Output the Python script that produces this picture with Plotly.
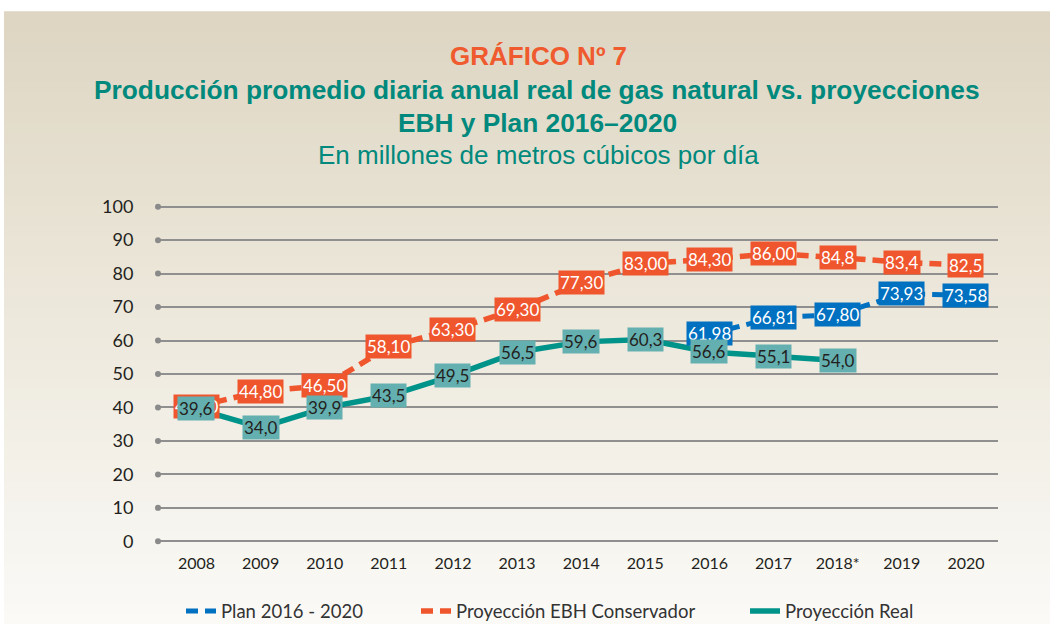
import plotly.graph_objects as go

# ---------------- data ----------------
years = ["2008", "2009", "2010", "2011", "2012", "2013", "2014",
         "2015", "2016", "2017", "2018*", "2019", "2020"]

real_vals = [39.6, 34.0, 39.9, 43.5, 49.5, 56.5, 59.6, 60.3, 56.6, 55.1, 54.0]
real_labels = ["39,6", "34,0", "39,9", "43,5", "49,5", "56,5", "59,6",
               "60,3", "56,6", "55,1", "54,0"]

ebh_vals = [40.3, 44.8, 46.5, 58.1, 63.3, 69.3, 77.3, 83.0, 84.3, 86.0, 84.8, 83.4, 82.5]
ebh_labels = ["40,30", "44,80", "46,50", "58,10", "63,30", "69,30", "77,30",
              "83,00", "84,30", "86,00", "84,8", "83,4", "82,5"]

plan_years = ["2016", "2017", "2018*", "2019", "2020"]
plan_vals = [61.98, 66.81, 67.80, 73.93, 73.58]
plan_labels = ["61,98", "66,81", "67,80", "73,93", "73,58"]

y_ticks = [0, 10, 20, 30, 40, 50, 60, 70, 80, 90, 100]

# ---------------- styles ----------------
ORANGE = "#F0562D"
BLUE = "#0070C0"
TEAL = "#00938A"
TEAL_BOX = "#64AFB0"
TITLE_ORANGE = "#EF5A2E"
TITLE_TEAL = "#00897C"
TEXT = "#231F20"
LABEL_FONT = "Lato, 'Open Sans', sans-serif"
TITLE_FONT = "'Liberation Sans', Arial, Helvetica, sans-serif"

W, H = 1050, 624
PX_PER_UNIT = 3.34
Y0_PX, Y100_PX = 541, 207
YR = [-0.5, 100.5]
L, R = 158, 52
T = Y100_PX - (YR[1] - 100) * PX_PER_UNIT
B = H - (Y0_PX + (0 - YR[0]) * PX_PER_UNIT)
PW, PH = W - L - R, H - T - B

def px_x(p):
    return (p - L) / PW

def px_y(p):
    return (H - B - p) / PH

xi = {y: i for i, y in enumerate(years)}
real_x = [xi[y] for y in years[:len(real_vals)]]
ebh_x = [xi[y] for y in years]
plan_x = [xi[y] for y in plan_years]

fig = go.Figure()

fig.add_trace(go.Scatter(
    x=plan_x, y=plan_vals, mode="lines", name="Plan 2016 - 2020",
    line=dict(color=BLUE, width=5, dash="12px,7px"), legend="legend",
    hoverinfo="skip"))
fig.add_trace(go.Scatter(
    x=ebh_x, y=ebh_vals, mode="lines", name="Proyección EBH Conservador",
    line=dict(color=ORANGE, width=5.5, dash="12px,7px"), legend="legend2",
    hoverinfo="skip"))
fig.add_trace(go.Scatter(
    x=real_x, y=real_vals, mode="lines", name="Proyección Real",
    line=dict(color=TEAL, width=5.5), legend="legend3", hoverinfo="skip"))

# grid-line end dots
fig.add_trace(go.Scatter(
    x=[-0.6] * len(y_ticks), y=y_ticks, mode="markers",
    marker=dict(color="#8A8A8A", size=6), showlegend=False,
    hoverinfo="skip", cliponaxis=False))

annotations = []

def add_labels(xs, vals, labels, bg, fg):
    for x, v, t in zip(xs, vals, labels):
        annotations.append(dict(
            x=x, y=v, xref="x", yref="y", text=t, showarrow=False,
            xanchor="center", yanchor="middle", bgcolor=bg, borderpad=1,
            font=dict(family=LABEL_FONT, size=17, color=fg)))

add_labels(ebh_x, ebh_vals, ebh_labels, ORANGE, "white")
add_labels(plan_x, plan_vals, plan_labels, BLUE, "white")
add_labels(real_x, real_vals, real_labels, TEAL_BOX, TEXT)

# titles
annotations += [
    dict(x=px_x(538), y=px_y(57), xref="paper", yref="paper", showarrow=False,
         text="<b>GRÁFICO Nº 7</b>", xanchor="center", yanchor="middle",
         font=dict(family=TITLE_FONT, size=26, color=TITLE_ORANGE)),
    dict(x=px_x(537), y=px_y(91), xref="paper", yref="paper", showarrow=False,
         text="<b>Producción promedio diaria anual real de gas natural vs. proyecciones</b>",
         xanchor="center", yanchor="middle",
         font=dict(family=TITLE_FONT, size=26.3, color=TITLE_TEAL)),
    dict(x=px_x(537), y=px_y(123), xref="paper", yref="paper", showarrow=False,
         text="<b>EBH y Plan 2016–2020</b>", xanchor="center", yanchor="middle",
         font=dict(family=TITLE_FONT, size=26.3, color=TITLE_TEAL)),
    dict(x=px_x(538), y=px_y(155), xref="paper", yref="paper", showarrow=False,
         text="En millones de metros cúbicos por día", xanchor="center", yanchor="middle",
         font=dict(family=TITLE_FONT, size=26, color=TITLE_TEAL)),
]

# background gradient (beige to near white)
shapes = []
top, bot = 12, H
n = 60
c0 = (222, 214, 195)
c1 = (236, 231, 218)
c2 = (251, 250, 247)
for i in range(n):
    f = i / (n - 1)
    if f < 0.45:
        g = f / 0.45
        c = tuple(int(c0[k] + (c1[k] - c0[k]) * g) for k in range(3))
    else:
        g = (f - 0.45) / 0.55
        c = tuple(int(c1[k] + (c2[k] - c1[k]) * g) for k in range(3))
    y0p = top + (bot - top) * i / n
    y1p = top + (bot - top) * (i + 1) / n + 1
    shapes.append(dict(type="rect", xref="paper", yref="paper",
                       x0=px_x(4), x1=px_x(W + 2), y0=px_y(y1p), y1=px_y(y0p),
                       fillcolor="rgb(%d,%d,%d)" % c, line=dict(width=0),
                       layer="below"))

legend_common = dict(orientation="h", y=px_y(611), xanchor="left", yanchor="middle",
                     bgcolor="rgba(0,0,0,0)", itemwidth=30,
                     font=dict(family=LABEL_FONT, size=18.5, color="#333333"))

fig.update_layout(
    width=W, height=H,
    margin=dict(l=L, r=R, t=T, b=B, autoexpand=False),
    paper_bgcolor="white", plot_bgcolor="rgba(0,0,0,0)",
    annotations=annotations, shapes=shapes,
    showlegend=True,
    legend=dict(x=px_x(181), **legend_common),
    legend2=dict(x=px_x(416), **legend_common),
    legend3=dict(x=px_x(745), **legend_common),
    xaxis=dict(range=[-0.6, 12.5], tickvals=list(range(len(years))), ticktext=years,
               showgrid=False, zeroline=False, showline=False,
               ticks="outside", ticklen=0, ticklabelstandoff=6,
               tickfont=dict(family=LABEL_FONT, size=16, color=TEXT), fixedrange=True),
    yaxis=dict(range=YR, tickvals=y_ticks, showgrid=True,
               gridcolor="#8F8F8F", gridwidth=1.5, zeroline=False, showline=False,
               ticks="outside", ticklen=0, ticklabelstandoff=20,
               tickfont=dict(family=LABEL_FONT, size=18, color=TEXT), fixedrange=True),
)

fig.write_html("out.html", config={"displayModeBar": False},
               post_script="document.body.style.margin='0';")
